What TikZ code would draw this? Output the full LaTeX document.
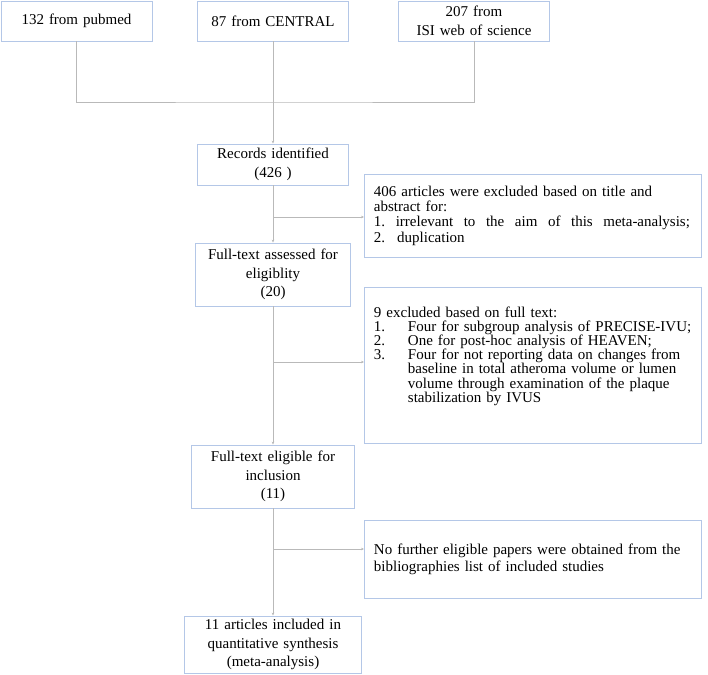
\documentclass[tikz,border=0pt]{standalone}
\usepackage{fontspec}
\setmainfont{Liberation Serif}
\usetikzlibrary{arrows.meta}

\begin{document}
\begin{tikzpicture}[x=1pt,y=-1pt,
  box/.style={draw=cbox,line width=0.9pt,inner xsep=5pt,inner ysep=0pt,align=center,
    font=\fontsize{15}{18.5}\selectfont},
  exbox/.style={draw=cbox,line width=0.9pt,inner xsep=9.5pt,inner ysep=0pt,align=left,
    text width=318pt,anchor=west},
  link/.style={draw=cline,line width=0.9pt},
  conn/.style={link,-{Stealth[length=3pt,width=2.6pt]}}]
%
\useasboundingbox (0,0) rectangle (708,674);
%
\definecolor{cbox}{RGB}{180,199,231}
\definecolor{cline}{RGB}{185,185,185}
%
% sources
\node[box,text width=141pt,minimum height=40pt] (pub) at (76.5,21) {132 from pubmed};
\node[box,text width=141pt,minimum height=40pt] (cen) at (273,21) {87 from CENTRAL};
\node[box,text width=141pt,minimum height=40pt] (isi) at (474,21) {207 from\\ISI web of science};
%
% main column
\node[box,text width=141pt,minimum height=41pt] (rec) at (273,164.5) {Records identified\\(426 )};
\node[box,text width=145pt,minimum height=63pt] (fta) at (273,274.5) {Full-text assessed for\\eligiblity\\(20)};
\node[box,text width=153pt,minimum height=63pt] (fte) at (273,476.5) {Full-text eligible for\\inclusion\\(11)};
\node[box,text width=167pt,minimum height=57pt] (fin) at (273,644.5) {11 articles included in\\quantitative synthesis\\(meta-analysis)};
%
% exclusions
\node[exbox,minimum height=83pt,font=\fontsize{15}{15.3}\selectfont] (ex1) at (364,215.5)
  {406 articles were excluded based on title and\\
   abstract for:\\
   \makebox[316pt][l]{1.\hfill irrelevant\hfill to\hfill the\hfill aim\hfill of\hfill this\hfill meta-analysis;}\\
   2.\hspace{12pt}duplication};
\node[exbox,minimum height=156pt,font=\fontsize{15}{14.2}\selectfont] (ex2) at (364,365.5)
  {9 excluded based on full text:\\
   \makebox[34pt][l]{1.}Four for subgroup analysis of PRECISE-IVU;\\
   \makebox[34pt][l]{2.}One for post-hoc analysis of HEAVEN;\\
   \makebox[34pt][l]{3.}Four for not reporting data on changes from\\
   \hspace*{34pt}baseline in total atheroma volume or lumen\\
   \hspace*{34pt}volume through examination of the plaque\\
   \hspace*{34pt}stabilization by IVUS\\[8pt]\mbox{}};
\node[exbox,minimum height=78pt,font=\fontsize{15}{17}\selectfont] (ex3) at (364,559)
  {No further eligible papers were obtained from the\\
   bibliographies list of included studies};
%
% branch points
\coordinate (join) at (273,102);
\coordinate (b1) at (273,217);
\coordinate (b2) at (273,362);
\coordinate (b3) at (273,549);
%
\draw[link] (pub.south) |- (join) -| (isi.south);
\draw[link] (cen.south) -- (join);
\draw[conn] (join) -- (rec.north);
\draw[conn] (rec.south) -- (fta.north);
\draw[conn] (fta.south) -- (fte.north);
\draw[conn] (fte.south) -- (fin.north);
\draw[conn] (b1) -- (b1 -| ex1.west);
\draw[conn] (b2) -- (b2 -| ex2.west);
\draw[conn] (b3) -- (b3 -| ex3.west);
%
\end{tikzpicture}
\end{document}
